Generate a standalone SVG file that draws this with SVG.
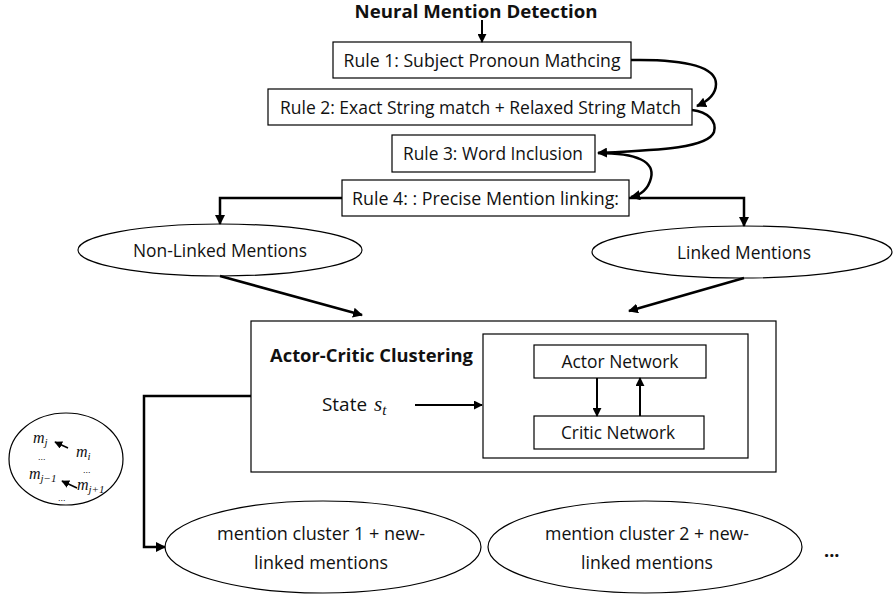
<svg xmlns="http://www.w3.org/2000/svg" width="894" height="594" viewBox="0 0 894 594">
<style>
  .box { fill: #fff; stroke: #000; stroke-width: 1.2; }
  .ell { fill: #fff; stroke: #000; stroke-width: 1.2; }
  .t { font-family: "Open Sans", "Liberation Sans", sans-serif; font-size: 18px; fill: #111; }
  .b { font-weight: bold; }
  .m { font-family: "Liberation Serif", "DejaVu Serif", serif; font-style: italic; fill: #111; font-size: 16px; }
  .big { font-size: 21px; }
  .sub { font-size: 11px; }
  .sub2 { font-size: 15px; }
  .d { font-family: "Liberation Sans", sans-serif; font-size: 9px; fill: #111; }
  .c { fill: none; stroke: #000; stroke-width: 2.5; }
  .c2 { fill: none; stroke: #000; stroke-width: 2; }
</style>
<defs>
  <marker id="ah" viewBox="0 0 10 10" refX="9" refY="5" markerWidth="4" markerHeight="4" orient="auto" markerUnits="strokeWidth">
    <path d="M0,0 L10,5 L0,10 z" fill="#000"/>
  </marker>
  <marker id="ah2" viewBox="0 0 10 10" refX="9" refY="5" markerWidth="4.5" markerHeight="4.5" orient="auto" markerUnits="strokeWidth">
    <path d="M0,0 L10,5 L0,10 z" fill="#000"/>
  </marker>
  <marker id="ahs" viewBox="0 0 10 10" refX="9" refY="5" markerWidth="5" markerHeight="5" orient="auto" markerUnits="strokeWidth">
    <path d="M0,0 L10,5 L0,10 z" fill="#000"/>
  </marker>
</defs>
<rect width="894" height="594" fill="#fff"/>

<g id="title">
  <text class="t b" x="476" y="18" text-anchor="middle" textLength="243" lengthAdjust="spacingAndGlyphs">Neural Mention Detection</text>
</g>

<g id="rule1">
  <rect class="box" x="333" y="42" width="298" height="36"/>
  <text class="t" x="482" y="67" text-anchor="middle" textLength="277" lengthAdjust="spacingAndGlyphs">Rule 1: Subject Pronoun Mathcing</text>
</g>
<g id="rule2">
  <rect class="box" x="268" y="89" width="424" height="36"/>
  <text class="t" x="480.5" y="114" text-anchor="middle" textLength="401" lengthAdjust="spacingAndGlyphs">Rule 2: Exact String match + Relaxed String Match</text>
</g>
<g id="rule3">
  <rect class="box" x="392" y="135" width="203" height="37"/>
  <text class="t" x="493" y="160" text-anchor="middle" textLength="180" lengthAdjust="spacingAndGlyphs">Rule 3: Word Inclusion</text>
</g>
<g id="rule4">
  <rect class="box" x="342" y="180" width="287" height="36"/>
  <text class="t" x="485.5" y="205" text-anchor="middle" textLength="267" lengthAdjust="spacingAndGlyphs">Rule 4: : Precise Mention linking:</text>
</g>

<g id="non-linked">
  <ellipse class="ell" cx="220" cy="250" rx="142" ry="26"/>
  <text class="t" x="220" y="257" text-anchor="middle" textLength="174" lengthAdjust="spacingAndGlyphs">Non-Linked Mentions</text>
</g>
<g id="linked">
  <ellipse class="ell" cx="742" cy="252" rx="150" ry="26"/>
  <text class="t" x="744" y="259" text-anchor="middle" textLength="134" lengthAdjust="spacingAndGlyphs">Linked Mentions</text>
</g>

<g id="actor-critic">
  <rect class="box" x="251" y="321" width="525" height="151"/>
  <text class="t b" x="270" y="362" textLength="203" lengthAdjust="spacingAndGlyphs">Actor-Critic Clustering</text>
  <text class="t" x="322" y="411" textLength="45" lengthAdjust="spacingAndGlyphs">State</text>
  <text class="m big" x="374" y="411">s<tspan class="sub2" dy="4">t</tspan></text>
  <rect class="box" x="483" y="334" width="265" height="124"/>
</g>
<g id="actor-network">
  <rect class="box" x="534" y="345" width="172" height="33"/>
  <text class="t" x="620" y="368" text-anchor="middle" textLength="117" lengthAdjust="spacingAndGlyphs">Actor Network</text>
</g>
<g id="critic-network">
  <rect class="box" x="534" y="416" width="170" height="33"/>
  <text class="t" x="618" y="439" text-anchor="middle" textLength="114" lengthAdjust="spacingAndGlyphs">Critic Network</text>
</g>

<g id="mention-circle">
  <ellipse class="ell" cx="66" cy="459" rx="57" ry="46"/>
  <text class="m" x="33" y="443">m<tspan class="sub" dy="3">j</tspan></text>
  <text class="m" x="76" y="457">m<tspan class="sub" dy="3">i</tspan></text>
  <text class="d" x="38" y="460">...</text>
  <text class="d" x="83" y="473">...</text>
  <text class="m" x="29" y="479">m<tspan class="sub" dy="3">j−1</tspan></text>
  <text class="m" x="77" y="490">m<tspan class="sub" dy="3">j+1</tspan></text>
  <text class="d" x="58" y="501">...</text>
</g>

<g id="cluster1">
  <ellipse class="ell" cx="323" cy="547" rx="158" ry="46"/>
  <text class="t" x="321" y="540" text-anchor="middle" textLength="208" lengthAdjust="spacingAndGlyphs">mention cluster 1 + new-</text>
  <text class="t" x="321" y="569" text-anchor="middle" textLength="134" lengthAdjust="spacingAndGlyphs">linked mentions</text>
</g>
<g id="cluster2">
  <ellipse class="ell" cx="645" cy="547" rx="157" ry="46"/>
  <text class="t" x="647" y="540" text-anchor="middle" textLength="204" lengthAdjust="spacingAndGlyphs">mention cluster 2 + new-</text>
  <text class="t" x="647" y="569" text-anchor="middle" textLength="132" lengthAdjust="spacingAndGlyphs">linked mentions</text>
</g>
<g id="more">
  <text class="t b" x="824" y="557">...</text>
</g>

<g id="connectors">
  <line class="c2" x1="482" y1="20" x2="482" y2="42" marker-end="url(#ah2)"/>
  <path class="c" d="M631,60 C690,59 716,68 716,84 C716,95 706,102 697,106" marker-end="url(#ah)"/>
  <path class="c" d="M692,110 C708,112 717,121 714,132 C708,148 660,150 598,153" marker-end="url(#ah)"/>
  <path class="c" d="M598,153 C638,153 655,162 651,178 C648,190 641,195 631,197" marker-end="url(#ah)"/>
  <polyline class="c" points="342,198 220,198 220,224" marker-end="url(#ah)"/>
  <polyline class="c" points="629,198 744,198 744,226" marker-end="url(#ah)"/>
  <line class="c" x1="220" y1="276" x2="362" y2="315" marker-end="url(#ah)"/>
  <line class="c" x1="744" y1="278" x2="629" y2="311" marker-end="url(#ah)"/>
  <line class="c2" x1="415" y1="405" x2="482" y2="405" marker-end="url(#ah2)"/>
  <line class="c2" x1="597" y1="378" x2="597" y2="416" marker-end="url(#ah2)"/>
  <line class="c2" x1="640" y1="416" x2="640" y2="378" marker-end="url(#ah2)"/>
  <polyline class="c" points="251,396 144,396 144,547 165,547" marker-end="url(#ah)"/>
  <line x1="68" y1="448" x2="55" y2="442" stroke="#000" stroke-width="1.6" marker-end="url(#ahs)"/>
  <line x1="77" y1="488" x2="62" y2="481" stroke="#000" stroke-width="1.6" marker-end="url(#ahs)"/>
</g>
</svg>
